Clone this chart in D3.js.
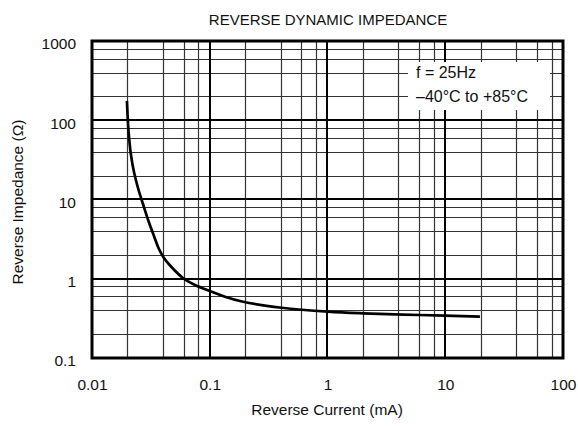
<!DOCTYPE html>
<html>
<head>
<meta charset="utf-8">
<script src="https://cdn.jsdelivr.net/npm/d3@7/dist/d3.min.js"></script>
<style>
html,body{margin:0;padding:0;background:#fff;}
svg{display:block;}
text{font-family:"Liberation Sans",Arial,sans-serif;fill:#111;}
</style>
</head>
<body>
<svg id="chart" width="578" height="426"></svg>
<script>
// Data
const currentMA = [0.0198, 0.0204, 0.02143, 0.02273, 0.02458, 0.0271, 0.03017, 0.0336, 0.03705, 0.04087, 0.04685, 0.05922, 0.0749, 0.1038, 0.1346, 0.192, 0.408, 1.01, 2.01, 6.08, 19.7];
const impedanceOhm = [175, 75.3, 36.4, 22.2, 13.97, 8.77, 5.35, 3.46, 2.37, 1.827, 1.427, 1.022, 0.834, 0.687, 0.594, 0.513, 0.431, 0.384, 0.366, 0.349, 0.332];
const xTickLabels = ["0.01", "0.1", "1", "10", "100"];
const yTickLabels = ["0.1", "1", "10", "100", "1000"];
const minorMultipliers = [2, 4, 6, 8];
const title = "REVERSE DYNAMIC IMPEDANCE";
const xTitle = "Reverse Current (mA)";
const yTitle = "Reverse Impedance (Ω)";
const noteLines = ["f = 25Hz", "\u201340°C to +85°C"];

const FS = 15.5;
const svg = d3.select("#chart");
const L = 92, R = 563, T = 41, B = 358;
const x = d3.scaleLog().domain([0.01, 100]).range([L, R]);
const y = d3.scaleLog().domain([0.1, 1000]).range([B, T]);

const xMajors = xTickLabels.map(Number);
const yMajors = yTickLabels.map(Number);
const xMinors = [], yMinors = [];
xMajors.slice(0, -1).forEach(d => minorMultipliers.forEach(m => xMinors.push(d * m)));
yMajors.slice(0, -1).forEach(d => minorMultipliers.forEach(m => yMinors.push(d * m)));

const grid = svg.append("g");
grid.selectAll("line.xm").data(xMinors).join("line")
  .attr("x1", d => Math.round(x(d)) + 0.5).attr("x2", d => Math.round(x(d)) + 0.5)
  .attr("y1", T).attr("y2", B).attr("stroke", "#333").attr("stroke-width", 1.2);
grid.selectAll("line.ym").data(yMinors).join("line")
  .attr("y1", d => Math.round(y(d)) + 0.5).attr("y2", d => Math.round(y(d)) + 0.5)
  .attr("x1", L).attr("x2", R).attr("stroke", "#333").attr("stroke-width", 1.2);
grid.selectAll("line.xM").data(xMajors).join("line")
  .attr("x1", d => Math.round(x(d))).attr("x2", d => Math.round(x(d)))
  .attr("y1", T).attr("y2", B).attr("stroke", "#000").attr("stroke-width", 2);
grid.selectAll("line.yM").data(yMajors).join("line")
  .attr("y1", d => Math.round(y(d))).attr("y2", d => Math.round(y(d)))
  .attr("x1", L).attr("x2", R).attr("stroke", "#000").attr("stroke-width", 2);

// annotation white-out box
svg.append("rect").attr("x", 408).attr("y", 62).attr("width", 142).attr("height", 48).attr("fill", "#fff");
svg.selectAll("text.note").data(noteLines).join("text")
  .attr("x", 416).attr("y", (d, i) => 78 + i * 24)
  .attr("font-size", 16).text(d => d);

// frame
svg.append("rect").attr("x", L).attr("y", T).attr("width", R - L).attr("height", B - T)
  .attr("fill", "none").attr("stroke", "#000").attr("stroke-width", 3);

// curve
const pts = currentMA.map((c, i) => [c, impedanceOhm[i]]);
svg.append("path").datum(pts)
  .attr("d", d3.line().x(d => x(d[0])).y(d => y(d[1])).curve(d3.curveCatmullRom.alpha(0.5)))
  .attr("fill", "none").attr("stroke", "#000").attr("stroke-width", 2.7);

// axes labels
const xAxis = d3.axisBottom(x).tickValues(xMajors).tickFormat((d, i) => xTickLabels[i]).tickSize(0).tickPadding(0);
const gx = svg.append("g").attr("transform", `translate(0,${B})`).call(xAxis);
gx.select(".domain").remove();
gx.selectAll("text").attr("font-size", FS).attr("dy", null).attr("y", 32).attr("fill", "#111")
  .style("font-family", '"Liberation Sans",Arial,sans-serif');

const yAxis = d3.axisLeft(y).tickValues(yMajors).tickFormat((d, i) => yTickLabels[i]).tickSize(0).tickPadding(0);
const gy = svg.append("g").attr("transform", `translate(${L},0)`).call(yAxis);
gy.select(".domain").remove();
gy.selectAll("text").attr("font-size", FS).attr("x", -16).attr("dy", "0.5em").attr("fill", "#111")
  .style("font-family", '"Liberation Sans",Arial,sans-serif');

svg.append("text").attr("x", 328).attr("y", 25).attr("text-anchor", "middle").attr("font-size", 15).text(title);
svg.append("text").attr("x", 327).attr("y", 415).attr("text-anchor", "middle").attr("font-size", FS).text(xTitle);
svg.append("text").attr("transform", "translate(23,202) rotate(-90)").attr("text-anchor", "middle").attr("font-size", FS).text(yTitle);
</script>
</body>
</html>
